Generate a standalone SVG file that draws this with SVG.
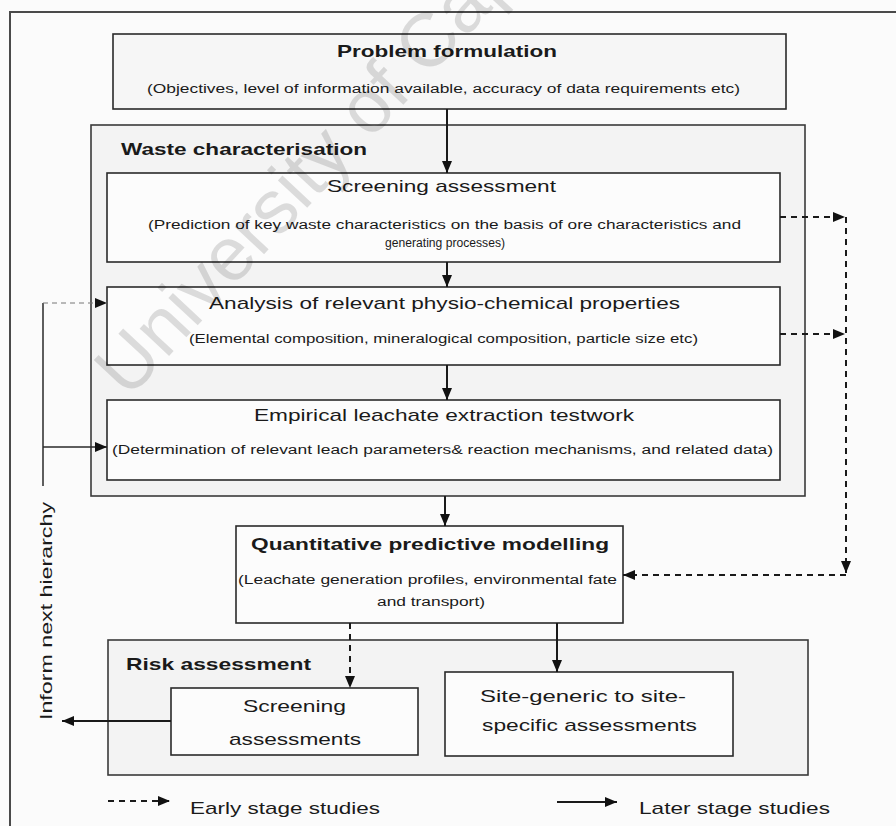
<svg xmlns="http://www.w3.org/2000/svg" width="896" height="826" viewBox="0 0 896 826">
  <style>
    text { font-family: "Liberation Sans", Arial, sans-serif; fill: #1a1a1a; }
    .t { font-size: 17px; }
    .b { font-size: 17px; font-weight: bold; }
    .s { font-size: 12.5px; }
    .frame { fill: none; stroke: #4a4a4a; stroke-width: 2; }
    .group { fill: #f3f3f3; stroke: #3a3a3a; stroke-width: 1.6; }
    .box { stroke: #2a2a2a; stroke-width: 1.6; }
    .white { fill: #fcfcfc; }
    .grey { fill: #f6f6f6; }
    .solid { fill: none; stroke: #1a1a1a; stroke-width: 2; }
    .dash { fill: none; stroke: #1a1a1a; stroke-width: 2; stroke-dasharray: 6 5; }
    .thin { fill: none; stroke: #2a2a2a; stroke-width: 1.5; }
    .faint { fill: none; stroke: #777; stroke-width: 1; stroke-dasharray: 5 4; }
    .mark { font-size: 76px; fill: #000; fill-opacity: 0.13; }
  </style>
  <defs>
    <marker id="ah" viewBox="0 0 12 10" refX="12" refY="5" markerWidth="12" markerHeight="10" markerUnits="userSpaceOnUse" orient="auto">
      <path d="M0,0 L12,5 L0,10 z" fill="#111"/>
    </marker>
  </defs>

  <rect width="896" height="826" fill="#fbfbfb"/>

  <!-- page frame -->
  <path class="frame" d="M10,826 V12 H896"/>

  <g id="problem-formulation">
    <rect class="box grey" x="113" y="34" width="673" height="75"/>
    <text class="b" x="337" y="57" textLength="220" lengthAdjust="spacingAndGlyphs">Problem formulation</text>
    <text class="s" x="147" y="93" textLength="593" lengthAdjust="spacingAndGlyphs">(Objectives, level of information available, accuracy of data requirements etc)</text>
  </g>

  <g id="waste-characterisation">
    <rect class="group" x="91" y="125" width="714" height="371"/>
    <text class="b" x="121" y="155" textLength="246" lengthAdjust="spacingAndGlyphs">Waste characterisation</text>
  </g>

  <g id="screening-assessment">
    <rect class="box white" x="107" y="173" width="673" height="89"/>
    <text class="t" x="327" y="192" textLength="229" lengthAdjust="spacingAndGlyphs">Screening assessment</text>
    <text class="s" x="148" y="229" textLength="593" lengthAdjust="spacingAndGlyphs">(Prediction of key waste characteristics on the basis of ore characteristics and</text>
    <text class="s" x="385" y="247" textLength="120" lengthAdjust="spacingAndGlyphs">generating processes)</text>
  </g>

  <g id="physio-chemical-analysis">
    <rect class="box white" x="107" y="287" width="673" height="78"/>
    <text class="t" x="209" y="309" textLength="471" lengthAdjust="spacingAndGlyphs">Analysis of relevant physio-chemical properties</text>
    <text class="s" x="189" y="343" textLength="509" lengthAdjust="spacingAndGlyphs">(Elemental composition, mineralogical composition, particle size etc)</text>
  </g>

  <g id="leachate-testwork">
    <rect class="box white" x="107" y="400" width="673" height="80"/>
    <text class="t" x="254" y="421" textLength="380" lengthAdjust="spacingAndGlyphs">Empirical leachate extraction testwork</text>
    <text class="s" x="112" y="454" textLength="661" lengthAdjust="spacingAndGlyphs">(Determination of relevant leach parameters&amp; reaction mechanisms, and related data)</text>
  </g>

  <g id="predictive-modelling">
    <rect class="box white" x="236" y="526" width="387" height="97"/>
    <text class="b" x="251" y="550" textLength="358" lengthAdjust="spacingAndGlyphs">Quantitative predictive modelling</text>
    <text class="s" x="238" y="584" textLength="379" lengthAdjust="spacingAndGlyphs">(Leachate generation profiles, environmental fate</text>
    <text class="s" x="377" y="606" textLength="108" lengthAdjust="spacingAndGlyphs">and transport)</text>
  </g>

  <g id="risk-assessment">
    <rect class="group" x="108" y="640" width="700" height="135"/>
    <text class="b" x="126" y="670" textLength="185" lengthAdjust="spacingAndGlyphs">Risk assessment</text>
  </g>

  <g id="screening-assessments">
    <rect class="box white" x="171" y="688" width="247" height="67"/>
    <text class="t" x="243" y="712" textLength="103" lengthAdjust="spacingAndGlyphs">Screening</text>
    <text class="t" x="229" y="745" textLength="132" lengthAdjust="spacingAndGlyphs">assessments</text>
  </g>

  <g id="site-specific-assessments">
    <rect class="box white" x="445" y="672" width="288" height="84"/>
    <text class="t" x="480" y="702" textLength="206" lengthAdjust="spacingAndGlyphs">Site-generic to site-</text>
    <text class="t" x="482" y="731" textLength="215" lengthAdjust="spacingAndGlyphs">specific assessments</text>
  </g>

  <g id="inform-label">
    <text class="t" transform="translate(52,720) rotate(-90)" x="0" y="0" textLength="218" lengthAdjust="spacingAndGlyphs">Inform next hierarchy</text>
  </g>

  <g id="connectors">
    <!-- main flow -->
    <path class="solid" d="M447,109 V173" marker-end="url(#ah)"/>
    <path class="solid" d="M447,262 V287" marker-end="url(#ah)"/>
    <path class="solid" d="M447,365 V400" marker-end="url(#ah)"/>
    <path class="solid" d="M445,496 V526" marker-end="url(#ah)"/>
    <path class="dash" d="M350,623 V688" marker-end="url(#ah)"/>
    <path class="solid" d="M557,623 V672" marker-end="url(#ah)"/>
    <!-- early-stage bypass to modelling -->
    <path class="dash" d="M780,217 H845" marker-end="url(#ah)"/>
    <path class="dash" d="M780,334 H845" marker-end="url(#ah)"/>
    <path class="dash" d="M846,217 V573" marker-end="url(#ah)"/>
    <path class="dash" d="M846,575 H623" marker-end="url(#ah)"/>
    <!-- feedback loop -->
    <path class="solid" d="M171,721 H62" marker-end="url(#ah)"/>
    <path class="thin" d="M43,303 V486"/>
    <path class="faint" d="M43,303 H107" marker-end="url(#ah)"/>
    <path class="thin" d="M43,447 H107" marker-end="url(#ah)"/>
  </g>

  <g id="legend">
    <path class="dash" d="M108,801 H170" stroke-dasharray="5 4" marker-end="url(#ah)"/>
    <text class="t" x="190" y="814" textLength="190" lengthAdjust="spacingAndGlyphs">Early stage studies</text>
    <path class="solid" d="M557,802 H617" marker-end="url(#ah)"/>
    <text class="t" x="639" y="814" textLength="191" lengthAdjust="spacingAndGlyphs">Later stage studies</text>
  </g>

  <!-- faint diagonal watermark -->
  <text class="mark" transform="translate(128,400) rotate(-47)" x="0" y="0">University of Cape Town</text>
</svg>
